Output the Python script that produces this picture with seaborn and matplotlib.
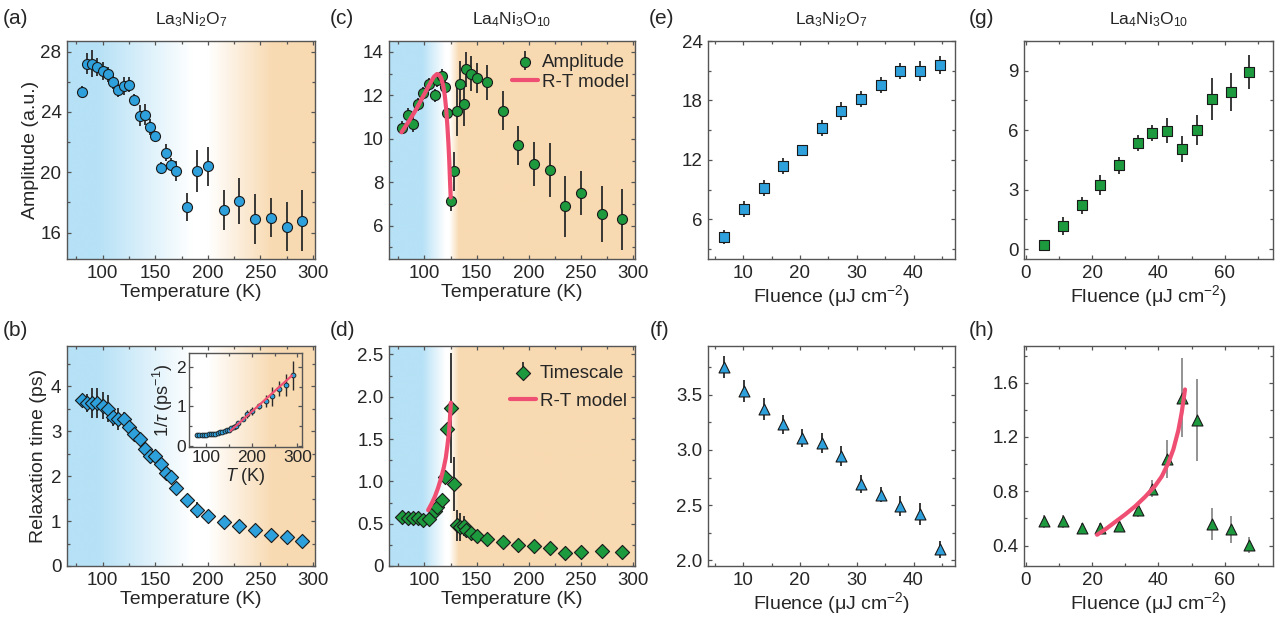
import numpy as np
import matplotlib
matplotlib.use('Agg')
import matplotlib.pyplot as plt
import seaborn as sns
from matplotlib.ticker import MultipleLocator, FuncFormatter
from matplotlib.colors import to_rgb
from matplotlib.legend_handler import HandlerTuple

# ---------------- data ----------------
T_327 = [80, 85, 90, 95, 100, 105, 110, 115, 120, 125, 130, 135, 140, 145, 150,
         155, 160, 165, 170, 180, 190, 200, 215, 230, 245, 260, 275, 290]
amp_327 = [25.3, 27.2, 27.2, 27.0, 26.7, 26.5, 26.0, 25.45, 25.7, 25.8, 24.8, 23.75,
           23.8, 23.0, 22.4, 20.3, 21.3, 20.5, 20.1, 17.7, 20.1, 20.4, 17.5, 18.1,
           16.9, 17.0, 16.4, 16.8]
amp_327_err = [0.4, 0.7, 0.9, 0.6, 0.6, 0.5, 0.45, 0.45, 0.6, 0.5, 0.4, 0.7, 0.7,
               0.5, 0.3, 0.4, 0.55, 0.45, 0.65, 0.9, 1.4, 1.3, 1.3, 1.5, 1.65, 1.3,
               1.6, 2.0]
tau_327 = [3.69, 3.64, 3.63, 3.63, 3.57, 3.50, 3.32, 3.28, 3.27, 3.09, 2.94, 2.83,
           2.61, 2.45, 2.44, 2.27, 2.07, 1.99, 1.73, 1.46, 1.25, 1.12, 0.99, 0.88,
           0.80, 0.69, 0.65, 0.56]
tau_327_err = [0.1, 0.2, 0.33, 0.34, 0.3, 0.3, 0.2, 0.25, 0.15, 0.15, 0.12, 0.12,
               0.15, 0.15, 0.12, 0.15, 0.12, 0.15, 0.12, 0.1, 0.18, 0.12, 0.06,
               0.05, 0.05, 0.05, 0.05, 0.05]
inv_tau_327 = [0.27, 0.27, 0.28, 0.28, 0.28, 0.29, 0.30, 0.30, 0.31, 0.32, 0.34,
               0.35, 0.38, 0.41, 0.41, 0.44, 0.48, 0.50, 0.58, 0.68, 0.80, 0.89,
               1.01, 1.14, 1.25, 1.45, 1.54, 1.79]
inv_tau_327_err = [0.01, 0.01, 0.02, 0.02, 0.02, 0.02, 0.02, 0.02, 0.02, 0.02,
                   0.02, 0.02, 0.03, 0.03, 0.03, 0.03, 0.03, 0.04, 0.04, 0.05,
                   0.1, 0.1, 0.07, 0.15, 0.25, 0.2, 0.29, 0.37]
fit_T = [153, 288]
fit_inv_tau = [0.38, 1.78]

T_4310 = [78, 84, 89, 94, 99, 104, 110, 112, 117, 120, 122, 125, 128, 131, 134.5,
          138, 140, 145, 150, 160, 175, 190, 205, 220, 235, 250, 270, 290]
amp_4310 = [10.5, 11.1, 10.7, 11.6, 12.1, 12.5, 12.0, 12.7, 12.9, 12.4, 11.2, 7.15,
            8.5, 11.3, 12.5, 11.6, 13.2, 13.0, 12.8, 12.6, 11.3, 9.7, 8.85, 8.55,
            6.9, 7.5, 6.55, 6.3]
amp_4310_err = [0.3, 0.3, 0.4, 0.3, 0.3, 0.3, 0.3, 0.3, 0.3, 0.3, 0.3, 0.45, 0.9,
                1.15, 1.1, 1.0, 0.8, 0.8, 0.7, 0.8, 0.9, 0.9, 1.0, 1.25, 1.4, 1.0,
                1.3, 1.4]
tau_4310 = [0.575, 0.565, 0.565, 0.565, 0.545, 0.56, 0.65, 0.70, 0.78, 1.05, 1.62,
            1.87, 0.97, 0.48, 0.46, 0.47, 0.42, 0.39, 0.35, 0.32, 0.28, 0.25, 0.24,
            0.21, 0.15, 0.16, 0.18, 0.16]
tau_4310_err = [0.03, 0.03, 0.03, 0.03, 0.03, 0.03, 0.03, 0.04, 0.04, 0.05, 0.05,
                0.65, 0.32, 0.18, 0.17, 0.12, 0.08, 0.06, 0.05, 0.05, 0.05, 0.05,
                0.06, 0.07, 0.07, 0.05, 0.07, 0.07]
model_amp_T = [78, 85, 92, 97, 102, 106, 109, 112, 114, 116, 118, 119.5, 120.8,
               122, 123, 123.8, 124.5, 125.2]
model_amp = [10.3, 10.8, 11.35, 11.8, 12.25, 12.6, 12.85, 12.98, 12.95, 12.8, 12.45,
             12.0, 11.4, 10.6, 9.8, 9.0, 8.1, 7.3]
model_tau_T = [103.5, 107, 110, 113, 116, 118.5, 120.5, 122, 123.5, 124.5, 125.3]
model_tau = [0.66, 0.74, 0.82, 0.92, 1.04, 1.16, 1.28, 1.42, 1.58, 1.75, 1.93]

F_327 = [6.7, 10.1, 13.6, 17.0, 20.4, 23.9, 27.3, 30.8, 34.2, 37.7, 41.1, 44.6]
amp_F_327 = [4.2, 7.05, 9.15, 11.4, 12.95, 15.2, 16.9, 18.15, 19.6, 21.0, 21.0, 21.55]
amp_F_327_err = [0.7, 0.8, 0.8, 0.8, 0.6, 0.8, 0.9, 0.8, 0.8, 0.8, 1.0, 0.9]
tau_F_327 = [3.75, 3.53, 3.37, 3.23, 3.105, 3.065, 2.945, 2.69, 2.595, 2.49, 2.42, 2.10]
tau_F_327_err = [0.1, 0.1, 0.1, 0.09, 0.08, 0.09, 0.09, 0.08, 0.07, 0.09, 0.1, 0.08]

F_4310 = [5.6, 11.3, 16.9, 22.4, 28.1, 33.7, 38.1, 42.6, 47.1, 51.7, 56.2, 61.7, 67.3]
amp_F_4310 = [0.22, 1.18, 2.2, 3.25, 4.22, 5.36, 5.87, 5.98, 5.06, 6.02, 7.57, 7.92, 8.93]
amp_F_4310_err = [0.2, 0.45, 0.45, 0.5, 0.45, 0.4, 0.4, 0.65, 0.65, 0.75, 1.05, 0.95, 0.85]
tau_F_4310 = [0.578, 0.578, 0.529, 0.529, 0.546, 0.66, 0.82, 1.04, 1.49, 1.325, 0.558, 0.52, 0.405]
tau_F_4310_err = [0.05, 0.05, 0.04, 0.04, 0.04, 0.05, 0.06, 0.14, 0.29, 0.3, 0.12, 0.1, 0.06]
model_F = [21.5, 24, 27, 30, 33, 36, 39, 41, 43, 44.5, 46, 47, 48]
model_tau_F = [0.48, 0.52, 0.575, 0.63, 0.69, 0.76, 0.84, 0.91, 1.01, 1.11, 1.25, 1.38, 1.55]

# ---------------- style ----------------
sns.set_theme(style='ticks')
plt.rcParams['font.family'] = ['Liberation Sans', 'DejaVu Sans']
plt.rcParams['mathtext.fontset'] = 'custom'
plt.rcParams['mathtext.rm'] = 'Liberation Sans'
plt.rcParams['mathtext.it'] = 'Liberation Sans:italic'
plt.rcParams['mathtext.default'] = 'regular'

BLUE = '#2ea0dc'
GREEN = '#1e9a3e'
PINK = '#ef4f72'
EDGE = '#1a1a1a'
BG_BLUE = '#b6e1f6'
BG_ORANGE = '#f8dab2'
SPINE = '#555555'
TICK_FS = 13.5
LAB_FS = 14

W, H = 1279, 625
fig = plt.figure(figsize=(W / 100, H / 100), dpi=100)


def rect(x0, y0, x1, y1):
    return [x0 / W, 1 - y1 / H, (x1 - x0) / W, (y1 - y0) / H]


def style(ax, xlim, ylim, xmaj, xmin, ymaj, ymin, labelsize=TICK_FS):
    ax.set_xlim(*xlim)
    ax.set_ylim(*ylim)
    ax.xaxis.set_major_locator(MultipleLocator(xmaj))
    ax.xaxis.set_minor_locator(MultipleLocator(xmin))
    ax.yaxis.set_major_locator(MultipleLocator(ymaj))
    ax.yaxis.set_minor_locator(MultipleLocator(ymin))
    ax.tick_params(which='both', direction='in', top=True, right=True,
                   color=SPINE, width=0.9, labelsize=labelsize, pad=4)
    ax.tick_params(which='major', length=3)
    ax.tick_params(which='minor', length=2.5)
    for s in ax.spines.values():
        s.set_color(SPINE)
        s.set_linewidth(1.0)


def gradient(ax, stops, xlim, ylim):
    xs = np.linspace(xlim[0], xlim[1], 800)
    xk = [s[0] for s in stops]
    cols = np.array([to_rgb(s[1]) for s in stops])
    img = np.stack([np.interp(xs, xk, cols[:, i]) for i in range(3)], axis=-1)[None, :, :]
    ax.imshow(img, extent=[xlim[0], xlim[1], ylim[0], ylim[1]], aspect='auto',
              zorder=0, interpolation='bilinear')


def points(ax, x, y, err, marker, color, s, ecolor='#2a2a2a', elw=1.3, lw=0.8):
    eb = ax.errorbar(x, y, yerr=err, fmt='none', ecolor=ecolor, elinewidth=elw,
                     capsize=0, zorder=2)
    n = len(ax.collections)
    sns.scatterplot(x=x, y=y, ax=ax, marker=marker, color=color, s=s,
                    edgecolor=EDGE, linewidth=lw, zorder=3, legend=False)
    return eb, ax.collections[n]


def model(ax, x, y, lw=3.0):
    n = len(ax.lines)
    sns.lineplot(x=x, y=y, ax=ax, color=PINK, linewidth=lw, sort=False,
                 estimator=None, zorder=4)
    return ax.lines[n]


T_XLIM = (66, 302)
stops_327 = [(66, BG_BLUE), (95, BG_BLUE), (185, 'white'), (200, 'white'),
             (262, BG_ORANGE), (302, BG_ORANGE)]
stops_4310 = [(66, BG_BLUE), (98, BG_BLUE), (120, 'white'), (124, 'white'),
              (133, BG_ORANGE), (302, BG_ORANGE)]

TOP = (41, 259)
BOT = (346, 566)
TEMP = 'Temperature (K)'
FLU = 'Fluence (μJ cm$^{-2}$)'

# (a)
ax = fig.add_axes(rect(67, TOP[0], 315, TOP[1]))
ylim = (14.25, 28.7)
gradient(ax, stops_327, T_XLIM, ylim)
points(ax, T_327, amp_327, amp_327_err, 'o', BLUE, 52)
style(ax, T_XLIM, ylim, 50, 25, 4, 2)
ax.set_xlabel(TEMP, fontsize=LAB_FS, labelpad=2)
ax.set_ylabel('Amplitude (a.u.)', fontsize=LAB_FS, labelpad=1)
ax.set_title('La$_3$Ni$_2$O$_7$', fontsize=12.5, pad=12)

# (b)
ax = fig.add_axes(rect(67, BOT[0], 315, BOT[1]))
ylim = (0, 4.9)
gradient(ax, stops_327, T_XLIM, ylim)
points(ax, T_327, tau_327, tau_327_err, 'D', BLUE, 52)
style(ax, T_XLIM, ylim, 50, 25, 1, 0.5)
ax.set_xlabel(TEMP, fontsize=LAB_FS, labelpad=2)
ax.set_ylabel('Relaxation time (ps)', fontsize=LAB_FS, labelpad=3)

# inset of (b)
ins = fig.add_axes(rect(189, 353, 302, 447))
ins.patch.set_alpha(0)
points(ins, T_327, inv_tau_327, inv_tau_327_err, 'o', BLUE, 12, elw=1.0, lw=0.6)
model(ins, fit_T, fit_inv_tau, lw=1.6)
style(ins, (62, 310), (-0.03, 2.35), 100, 50, 1, 0.5, labelsize=12.5)
ins.tick_params(which='both', pad=2)
ins.set_xlabel('$\\mathit{T}$ (K)', fontsize=13, labelpad=1)
ins.set_ylabel('1/$\\mathit{\\tau}$ (ps$^{-1}$)', fontsize=13, labelpad=1)

LEG = dict(loc='upper right', frameon=False, fontsize=13.5, handlelength=1.4,
           handletextpad=0.2, borderaxespad=0,
           handler_map={tuple: HandlerTuple(ndivide=1, pad=0)})

# (c)
ax = fig.add_axes(rect(389, TOP[0], 635, TOP[1]))
ylim = (4.47, 14.5)
gradient(ax, stops_4310, T_XLIM, ylim)
eb, sc = points(ax, T_4310, amp_4310, amp_4310_err, 'o', GREEN, 52)
ln = model(ax, model_amp_T, model_amp)
style(ax, T_XLIM, ylim, 50, 25, 2, 1)
ax.set_xlabel(TEMP, fontsize=LAB_FS, labelpad=2)
ax.set_title('La$_4$Ni$_3$O$_{10}$', fontsize=12.5, pad=12)
ax.legend([(eb, sc), ln], ['Amplitude', 'R-T model'], bbox_to_anchor=(1.005, 0.975),
          labelspacing=0.15, **LEG)

# (d)
ax = fig.add_axes(rect(389, BOT[0], 635, BOT[1]))
ylim = (0, 2.6)
gradient(ax, stops_4310, T_XLIM, ylim)
eb, sc = points(ax, T_4310, tau_4310, tau_4310_err, 'D', GREEN, 52)
ln = model(ax, model_tau_T, model_tau)
style(ax, T_XLIM, ylim, 50, 25, 0.5, 0.25)
ax.yaxis.set_major_formatter(FuncFormatter(lambda v, p: '0' if abs(v) < 1e-9 else f'{v:.1f}'))
ax.set_xlabel(TEMP, fontsize=LAB_FS, labelpad=2)
ax.legend([(eb, sc), ln], ['Timescale', 'R-T model'], bbox_to_anchor=(0.998, 0.95),
          labelspacing=0.6, **LEG)

# (e)
ax = fig.add_axes(rect(708, TOP[0], 955, TOP[1]))
points(ax, F_327, amp_F_327, amp_F_327_err, 's', BLUE, 52)
style(ax, (3.8, 47.3), (2, 24), 10, 5, 6, 3)
ax.set_xlabel(FLU, fontsize=LAB_FS, labelpad=1)
ax.set_title('La$_3$Ni$_2$O$_7$', fontsize=12.5, pad=12)

# (f)
ax = fig.add_axes(rect(708, BOT[0], 955, BOT[1]))
points(ax, F_327, tau_F_327, tau_F_327_err, '^', BLUE, 62)
style(ax, (3.8, 47.3), (1.95, 3.94), 10, 5, 0.5, 0.25)
ax.set_xlabel(FLU, fontsize=LAB_FS, labelpad=1)

# (g)
ax = fig.add_axes(rect(1024, TOP[0], 1273, TOP[1]))
points(ax, F_4310, amp_F_4310, amp_F_4310_err, 's', GREEN, 52)
style(ax, (-0.5, 74.5), (-0.5, 10.5), 20, 10, 3, 1.5)
ax.set_xlabel(FLU, fontsize=LAB_FS, labelpad=1)
ax.set_title('La$_4$Ni$_3$O$_{10}$', fontsize=12.5, pad=12)

# (h)
ax = fig.add_axes(rect(1024, BOT[0], 1273, BOT[1]))
points(ax, F_4310, tau_F_4310, tau_F_4310_err, '^', GREEN, 62, ecolor='#8a8a8a')
model(ax, model_F, model_tau_F)
style(ax, (-0.5, 74.5), (0.25, 1.87), 20, 10, 0.4, 0.2)
ax.set_xlabel(FLU, fontsize=LAB_FS, labelpad=1)

# panel letters
for lab, x, y in [('(a)', 3, 18), ('(b)', 3, 331), ('(c)', 330, 18), ('(d)', 330, 331),
                  ('(e)', 649, 18), ('(f)', 650, 331), ('(g)', 969, 18), ('(h)', 969, 331)]:
    fig.text(x / W, 1 - y / H, lab, fontsize=15, ha='left', va='center')

fig.savefig('out.png', dpi=100)
